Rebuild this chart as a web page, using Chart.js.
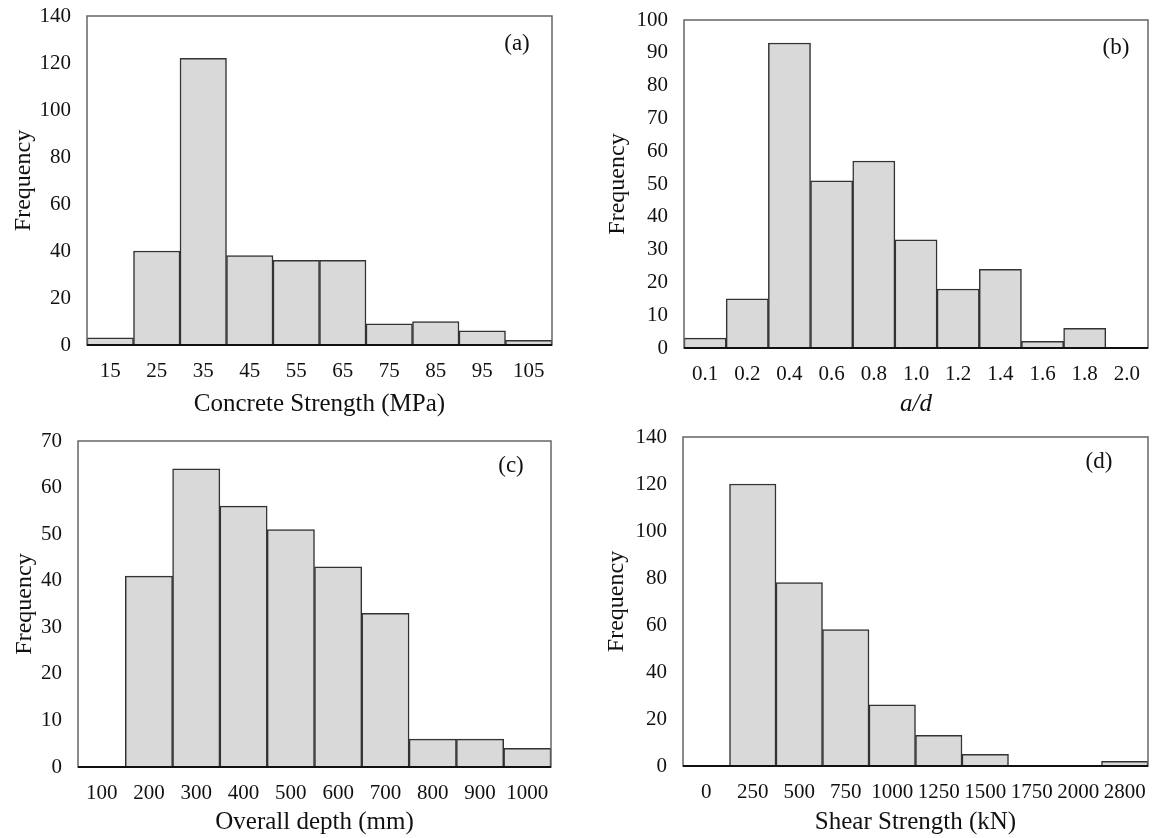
<!DOCTYPE html>
<html lang="en">
<head>
<meta charset="UTF-8">
<title>Histograms</title>
<script src="https://cdn.jsdelivr.net/npm/chart.js"></script>
<style>
  body { margin: 0; background: #fff; width: 1152px; height: 838px; position: relative; overflow: hidden; }
  .box { position: absolute; }
</style>
</head>
<body>
<div class="box" style="left:0;top:0;width:576px;height:420px"><canvas id="chartA"></canvas></div>
<div class="box" style="left:576px;top:0;width:576px;height:420px"><canvas id="chartB"></canvas></div>
<div class="box" style="left:0;top:420px;width:576px;height:418px"><canvas id="chartC"></canvas></div>
<div class="box" style="left:576px;top:420px;width:576px;height:418px"><canvas id="chartD"></canvas></div>
<script>
// (a) concrete strength
const strengthBins = ["15", "25", "35", "45", "55", "65", "75", "85", "95", "105"];
const strengthFreq = [3, 40, 122, 38, 36, 36, 9, 10, 6, 2];
// (b) a/d
const ratioBins = ["0.1", "0.2", "0.4", "0.6", "0.8", "1.0", "1.2", "1.4", "1.6", "1.8", "2.0"];
const ratioFreq = [3, 15, 93, 51, 57, 33, 18, 24, 2, 6, 0];
// (c) overall depth
const depthBins = ["100", "200", "300", "400", "500", "600", "700", "800", "900", "1000"];
const depthFreq = [0, 41, 64, 56, 51, 43, 33, 6, 6, 4];
// (d) shear strength
const shearBins = ["0", "250", "500", "750", "1000", "1250", "1500", "1750", "2000", "2800"];
const shearFreq = [0, 120, 78, 58, 26, 13, 5, 0, 0, 2];

const serif = "'Liberation Serif', 'Times New Roman', serif";

// draws the box round the plot and the panel letter
const frameAndTag = {
  id: 'frameAndTag',
  afterDraw(chart, args, opts) {
    const a = chart.chartArea;
    const ctx = chart.ctx;
    ctx.save();
    ctx.strokeStyle = '#666';
    ctx.lineWidth = 1.5;
    ctx.strokeRect(a.left, a.top, a.right - a.left, a.bottom - a.top);
    ctx.strokeStyle = '#111';
    ctx.lineWidth = 2;
    ctx.beginPath();
    ctx.moveTo(a.left, a.bottom);
    ctx.lineTo(a.right, a.bottom);
    ctx.stroke();
    ctx.fillStyle = '#111';
    ctx.font = "23px " + serif;
    ctx.textAlign = 'center';
    ctx.textBaseline = 'middle';
    ctx.fillText(opts.tag, a.right - opts.tagDx, a.top + opts.tagDy);
    ctx.restore();
  }
};

function makeHist(id, labels, values, s) {
  new Chart(document.getElementById(id), {
    type: 'bar',
    data: {
      labels: labels,
      datasets: [{
        data: values,
        backgroundColor: '#d9d9d9',
        borderColor: '#333',
        borderWidth: 1.5,
        categoryPercentage: 1.0,
        barPercentage: 1.0
      }]
    },
    options: {
      responsive: true,
      maintainAspectRatio: false,
      animation: false,
      layout: { padding: { top: s.top, right: s.right, left: 0, bottom: 0 } },
      plugins: {
        legend: { display: false },
        tooltip: { enabled: false },
        frameAndTag: { tag: s.tag, tagDx: s.tagDx, tagDy: s.tagDy }
      },
      scales: {
        x: {
          grid: { display: false, drawTicks: false },
          border: { display: false },
          ticks: {
            autoSkip: false, maxRotation: 0, padding: 14, color: '#111',
            font: { family: serif, size: 21 }
          },
          title: {
            display: true, text: s.xTitle, color: '#111',
            padding: { top: 0, bottom: 1 },
            font: { family: serif, size: 25, style: s.xItalic ? 'italic' : 'normal' }
          },
          afterFit(scale) {
            scale.height = s.xh;
            scale.paddingLeft = 0;
            scale.paddingRight = 0;
          }
        },
        y: {
          min: 0, max: s.ymax,
          grid: { display: false, drawTicks: false },
          border: { display: false },
          ticks: {
            stepSize: s.step, padding: 16, color: '#111',
            font: { family: serif, size: 21 }
          },
          title: {
            display: true, text: 'Frequency', color: '#111',
            padding: { top: s.ytPad, bottom: 0 },
            font: { family: serif, size: 24 }
          },
          afterFit(scale) {
            scale.width = s.yw;
            scale.paddingTop = 0;
            scale.paddingBottom = 0;
          }
        }
      }
    },
    plugins: [frameAndTag]
  });
}

makeHist('chartA', strengthBins, strengthFreq,
  { tag: '(a)', tagDx: 35, tagDy: 28, xTitle: 'Concrete Strength (MPa)', ymax: 140, step: 20, top: 16, right: 24, xh: 75, yw: 87, ytPad: 9 });
makeHist('chartB', ratioBins, ratioFreq,
  { tag: '(b)', tagDx: 32, tagDy: 28, xTitle: 'a/d', xItalic: true, ymax: 100, step: 10, top: 20, right: 4, xh: 72, yw: 108, ytPad: 27 });
makeHist('chartC', depthBins, depthFreq,
  { tag: '(c)', tagDx: 40, tagDy: 25, xTitle: 'Overall depth (mm)', ymax: 70, step: 10, top: 21, right: 25, xh: 71, yw: 78, ytPad: 10 });
makeHist('chartD', shearBins, shearFreq,
  { tag: '(d)', tagDx: 49, tagDy: 25, xTitle: 'Shear Strength (kN)', ymax: 140, step: 20, top: 17, right: 4, xh: 72, yw: 107, ytPad: 26 });
</script>
</body>
</html>
